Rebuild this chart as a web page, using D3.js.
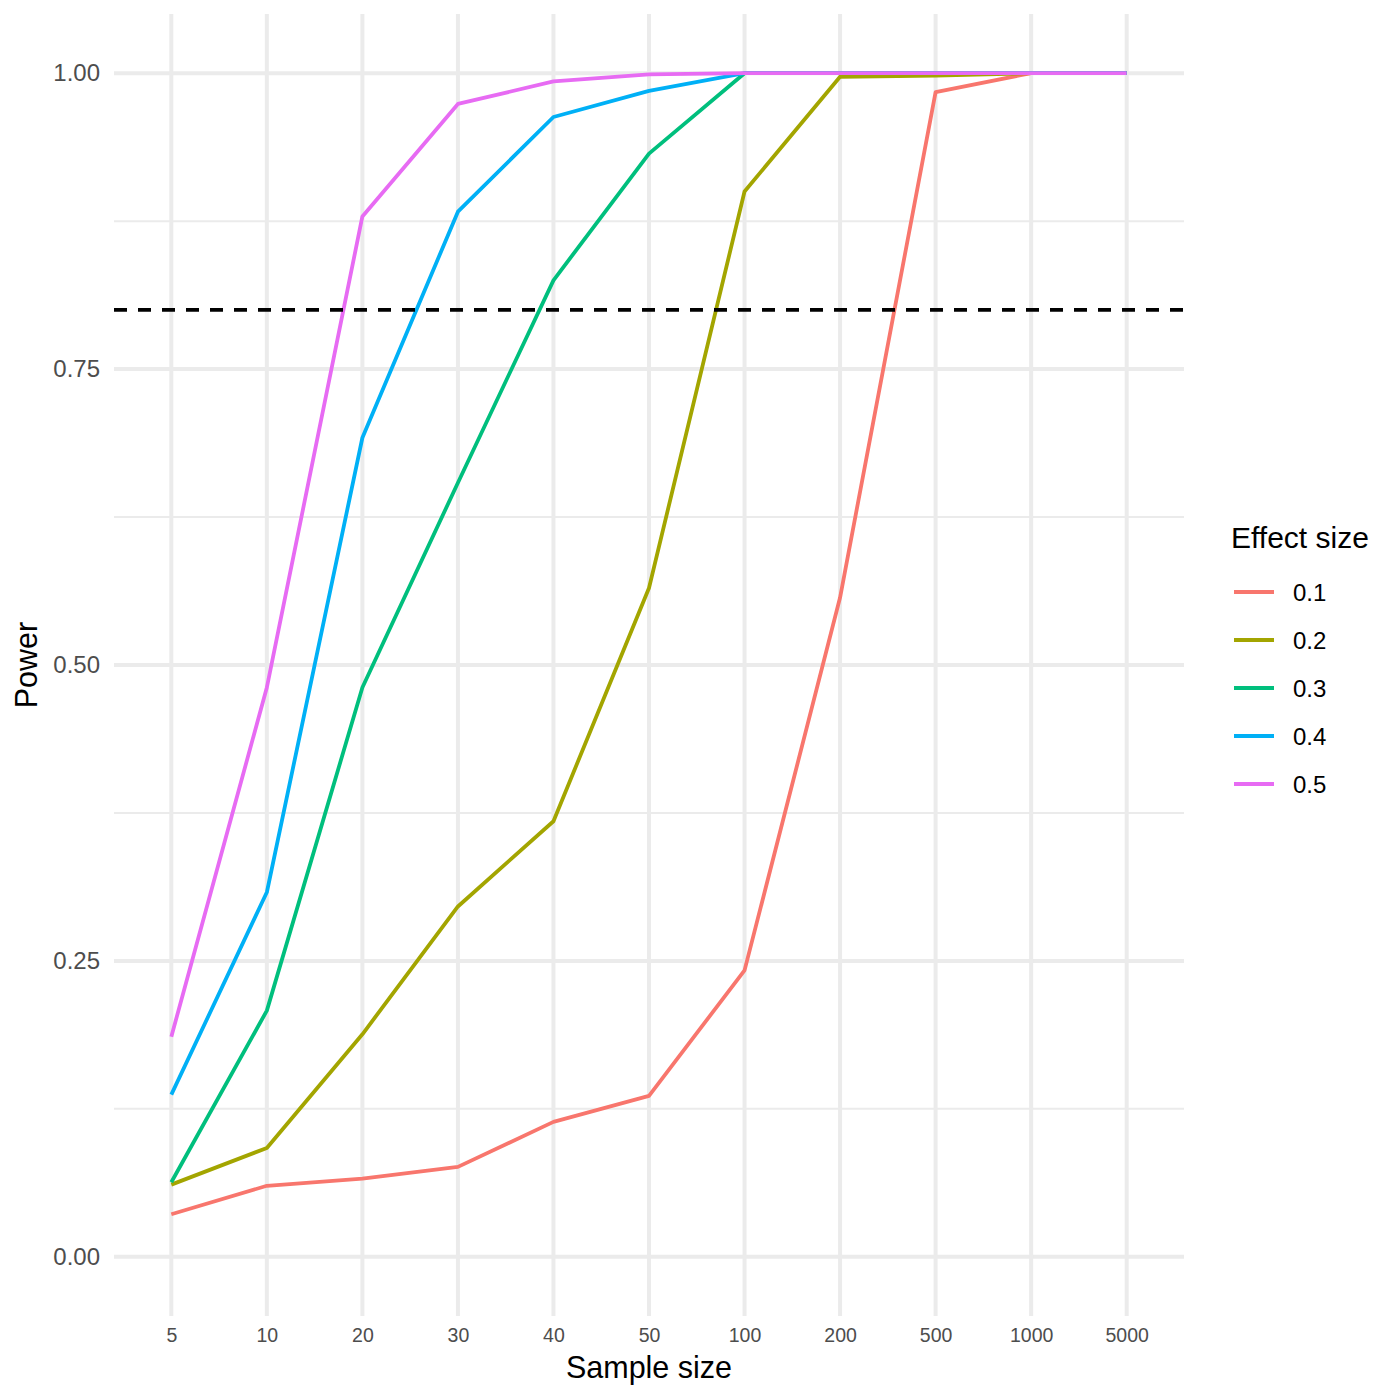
<!DOCTYPE html>
<html>
<head>
<meta charset="utf-8">
<script src="https://cdn.jsdelivr.net/npm/d3@7"></script>
<style>
  html, body { margin: 0; padding: 0; background: #fff; }
  svg text { font-family: "Liberation Sans", Arial, sans-serif; }
</style>
</head>
<body>
<div id="chart"></div>
<script>
/* ---------- data ---------- */
const sampleSizes = ["5", "10", "20", "30", "40", "50", "100", "200", "500", "1000", "5000"];
const effectSizes = ["0.1", "0.2", "0.3", "0.4", "0.5"];
const power01 = [0.036, 0.060, 0.066, 0.076, 0.114, 0.136, 0.242, 0.557, 0.984, 1, 1];
const power02 = [0.061, 0.092, 0.188, 0.296, 0.368, 0.565, 0.900, 0.997, 0.998, 1, 1];
const power03 = [0.063, 0.208, 0.481, 0.654, 0.825, 0.932, 1, 1, 1, 1, 1];
const power04 = [0.137, 0.308, 0.692, 0.883, 0.963, 0.985, 1, 1, 1, 1, 1];
const power05 = [0.186, 0.481, 0.879, 0.974, 0.993, 0.999, 1, 1, 1, 1, 1];
const powerTarget = 0.8;
const yTicks = [0, 0.25, 0.5, 0.75, 1];
const yMinor = [0.125, 0.375, 0.625, 0.875];
const colors = ["#F8766D", "#A3A500", "#00BF7D", "#00B0F6", "#E76BF3"];

const series = [power01, power02, power03, power04, power05].map((vals, i) => ({
  name: effectSizes[i],
  color: colors[i],
  values: vals.map((v, j) => ({ n: sampleSizes[j], p: v }))
}));

/* ---------- layout ---------- */
const W = 1400, H = 1400;
const panel = { left: 114, right: 1184, top: 14, bottom: 1316 };

const svg = d3.select('#chart').append('svg')
  .attr('width', W).attr('height', H);

const x = d3.scalePoint()
  .domain(sampleSizes)
  .range([panel.left, panel.right])
  .padding(0.6);

const y = d3.scaleLinear()
  .domain([-0.05, 1.05])
  .range([panel.bottom, panel.top]);

/* ---------- grid ---------- */
const grid = svg.append('g');
grid.selectAll('line.minor')
  .data(yMinor).enter().append('line')
  .attr('x1', panel.left).attr('x2', panel.right)
  .attr('y1', d => y(d)).attr('y2', d => y(d))
  .attr('stroke', '#EBEBEB').attr('stroke-width', 2);

grid.selectAll('line.hmajor')
  .data(yTicks).enter().append('line')
  .attr('x1', panel.left).attr('x2', panel.right)
  .attr('y1', d => y(d)).attr('y2', d => y(d))
  .attr('stroke', '#EBEBEB').attr('stroke-width', 4);

grid.selectAll('line.vmajor')
  .data(sampleSizes).enter().append('line')
  .attr('x1', d => x(d)).attr('x2', d => x(d))
  .attr('y1', panel.top).attr('y2', panel.bottom)
  .attr('stroke', '#EBEBEB').attr('stroke-width', 4);

/* ---------- lines ---------- */
const line = d3.line()
  .x(d => x(d.n))
  .y(d => y(d.p));

svg.append('g').selectAll('path')
  .data(series).enter().append('path')
  .attr('d', d => line(d.values))
  .attr('fill', 'none')
  .attr('stroke', d => d.color)
  .attr('stroke-width', 3.8)
  .attr('stroke-linejoin', 'round');

svg.append('line')
  .attr('x1', panel.left).attr('x2', panel.right)
  .attr('y1', y(powerTarget)).attr('y2', y(powerTarget))
  .attr('stroke', '#000').attr('stroke-width', 3.8)
  .attr('stroke-dasharray', '13,11');

/* ---------- axes (text only, ggplot minimal) ---------- */
const yAxis = svg.append('g')
  .attr('transform', `translate(${panel.left},0)`)
  .call(d3.axisLeft(y).tickValues(yTicks).tickFormat(d3.format('.2f')).tickSize(0).tickPadding(14));
yAxis.select('.domain').remove();
yAxis.selectAll('text')
  .attr('fill', '#4D4D4D').attr('font-size', '24px');

const xAxis = svg.append('g')
  .attr('transform', `translate(0,${panel.bottom})`)
  .call(d3.axisBottom(x).tickSize(0).tickPadding(12));
xAxis.select('.domain').remove();
xAxis.selectAll('text')
  .attr('fill', '#4D4D4D').attr('font-size', '19.5px');

svg.append('text')
  .attr('x', (panel.left + panel.right) / 2).attr('y', 1378)
  .attr('text-anchor', 'middle')
  .attr('font-size', '30.5px').attr('fill', '#000')
  .text('Sample size');

svg.append('text')
  .attr('transform', `translate(37,${(panel.top + panel.bottom) / 2}) rotate(-90)`)
  .attr('text-anchor', 'middle')
  .attr('font-size', '30.5px').attr('fill', '#000')
  .text('Power');

/* ---------- legend ---------- */
const legend = svg.append('g');
legend.append('text')
  .attr('x', 1231).attr('y', 548)
  .attr('font-size', '30px').attr('fill', '#000')
  .text('Effect size');

const items = legend.selectAll('g.item')
  .data(series).enter().append('g')
  .attr('transform', (d, i) => `translate(0,${592 + i * 48})`);

items.append('line')
  .attr('x1', 1234).attr('x2', 1274)
  .attr('stroke', d => d.color).attr('stroke-width', 3.8);

items.append('text')
  .attr('x', 1293).attr('y', 8.5)
  .attr('font-size', '24px').attr('fill', '#000')
  .text(d => d.name);
</script>
</body>
</html>
